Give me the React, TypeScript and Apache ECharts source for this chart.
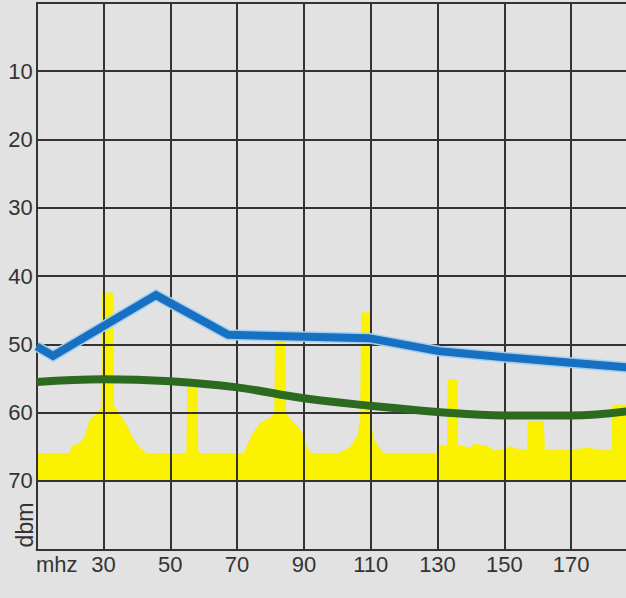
import React, { useEffect, useRef } from "react";
import * as echarts from "echarts";

// Tick labels shown on the axes
const xTickLabels = [30, 50, 70, 90, 110, 130, 150, 170];
const yTickLabels = [10, 20, 30, 40, 50, 60, 70];

// Blue limit line [mhz, dbm]
const blueLine = [
  [10, 50.3],
  [14.9, 51.7],
  [45.7, 42.8],
  [67.3, 48.6],
  [109.5, 49.1],
  [130.4, 51.0],
  [150, 51.9],
  [170, 52.7],
  [190, 53.5],
];

// Green limit curve [mhz, dbm]
const greenLine = [
  [10, 55.5],
  [30, 55.1],
  [50, 55.4],
  [70, 56.3],
  [90, 57.9],
  [110, 59.0],
  [130, 59.9],
  [150, 60.4],
  [170, 60.4],
  [190, 59.6],
];

// Yellow measured spectrum [mhz, dbm]
const spectrum = [
  [10, 66.0],
  [20, 66.0],
  [20.5, 65.0],
  [23, 64.5],
  [24.5, 63.5],
  [26, 61.0],
  [28.5, 60.0],
  [29.5, 59.0],
  [29.7, 42.5],
  [32.7, 42.5],
  [33, 59.0],
  [34.5, 60.0],
  [37, 62.0],
  [39, 64.0],
  [41, 65.3],
  [43, 66.0],
  [54.5, 66.0],
  [55, 65.5],
  [55.2, 56.4],
  [58.0, 56.4],
  [58.2, 65.5],
  [59, 66.0],
  [72, 66.0],
  [73, 65.0],
  [74.5, 63.3],
  [77, 61.5],
  [80, 60.8],
  [81.3, 60.0],
  [81.5, 49.6],
  [84.3, 49.6],
  [84.5, 60.0],
  [86, 61.1],
  [88.3, 62.1],
  [89.8, 63.5],
  [91.3, 65.5],
  [92.5, 66.0],
  [100, 66.0],
  [102, 65.6],
  [104, 65.0],
  [106, 63.5],
  [107, 61.0],
  [107.3, 45.4],
  [109.8, 45.4],
  [110, 61.5],
  [110.8, 64.0],
  [112.3, 65.0],
  [114, 66.0],
  [129.8, 66.0],
  [130.2, 64.8],
  [133, 64.8],
  [133.2, 55.2],
  [135.8, 55.2],
  [136, 64.8],
  [140, 65.2],
  [141, 64.6],
  [145, 65.0],
  [147, 65.6],
  [150, 65.4],
  [152, 65.0],
  [154, 65.4],
  [157, 65.5],
  [157.2, 61.3],
  [161.7, 61.3],
  [162, 65.5],
  [170, 65.5],
  [175, 65.2],
  [180, 65.6],
  [182.3, 65.5],
  [182.5, 58.9],
  [190, 58.9],
];

// Visible frequency window (the printed chart is cropped on the right)
const X_MIN = 10;
const X_MAX = 186.44;

const FONT = "'Liberation Sans', Arial, Helvetica, sans-serif";
const INK = "#333333";
const YELLOW = "#faf200";

export default function App() {
  const ref = useRef<HTMLDivElement>(null);

  useEffect(() => {
    if (!ref.current) return;
    const chart = echarts.init(ref.current, undefined, { renderer: "svg" });
    chart.setOption({
      animation: false,
      backgroundColor: "#e2e2e2",
      grid: {
        left: 36.7,
        right: 0,
        top: 2.7,
        bottom: 48.7,
        outerBoundsMode: "none",
        containLabel: false,
      },
      xAxis: {
        type: "value",
        min: X_MIN,
        max: X_MAX,
        interval: 10,
        z: 2,
        axisLine: { show: true, onZero: false, lineStyle: { color: INK, width: 2 } },
        axisTick: { show: false },
        splitLine: {
          show: true,
          showMaxLine: false,
          lineStyle: { color: [INK, "rgba(0,0,0,0)"], width: 2 },
        },
        axisLabel: {
          margin: 4,
          color: INK,
          fontSize: 22,
          fontFamily: FONT,
          showMaxLabel: false,
          formatter: (v: number) => (xTickLabels.includes(v) ? String(v) : ""),
        },
      },
      yAxis: {
        type: "value",
        min: 0,
        max: 80,
        interval: 10,
        inverse: true,
        z: 2,
        axisLine: { show: true, onZero: false, lineStyle: { color: INK, width: 2 } },
        axisTick: { show: false },
        splitLine: { show: true, lineStyle: { color: INK, width: 2 } },
        axisLabel: {
          margin: 4,
          color: INK,
          fontSize: 22,
          fontFamily: FONT,
          formatter: (v: number) => (yTickLabels.includes(v) ? String(v) : ""),
        },
      },
      graphic: [
        {
          type: "text",
          x: 36,
          y: 553,
          style: {
            text: "mhz",
            fill: INK,
            font: `22px ${FONT}`,
            align: "left",
            verticalAlign: "top",
          },
        },
        {
          type: "text",
          x: 25,
          y: 525,
          rotation: Math.PI / 2,
          style: {
            text: "dbm",
            fill: INK,
            font: `23px ${FONT}`,
            align: "center",
            verticalAlign: "middle",
          },
        },
      ],
      series: [
        {
          name: "spectrum",
          type: "line",
          data: spectrum,
          z: 1,
          showSymbol: false,
          symbol: "none",
          lineStyle: { width: 1, color: YELLOW },
          areaStyle: { color: YELLOW, opacity: 1, origin: 70 },
        },
        {
          name: "green",
          type: "line",
          data: greenLine,
          z: 3,
          smooth: 0.4,
          showSymbol: false,
          symbol: "none",
          lineStyle: { width: 8, color: "#2b6a1f" },
        },
        {
          name: "blueHalo",
          type: "line",
          data: blueLine,
          z: 3,
          showSymbol: false,
          symbol: "none",
          lineStyle: { width: 11, color: "#a4cfec", join: "miter" },
        },
        {
          name: "blue",
          type: "line",
          data: blueLine,
          z: 4,
          showSymbol: false,
          symbol: "none",
          lineStyle: { width: 8, color: "#1870c2", join: "miter" },
        },
      ],
    });
    return () => chart.dispose();
  }, []);

  return (
    <div
      ref={ref}
      style={{ position: "fixed", left: 0, top: 0, width: 626, height: 598 }}
    />
  );
}
